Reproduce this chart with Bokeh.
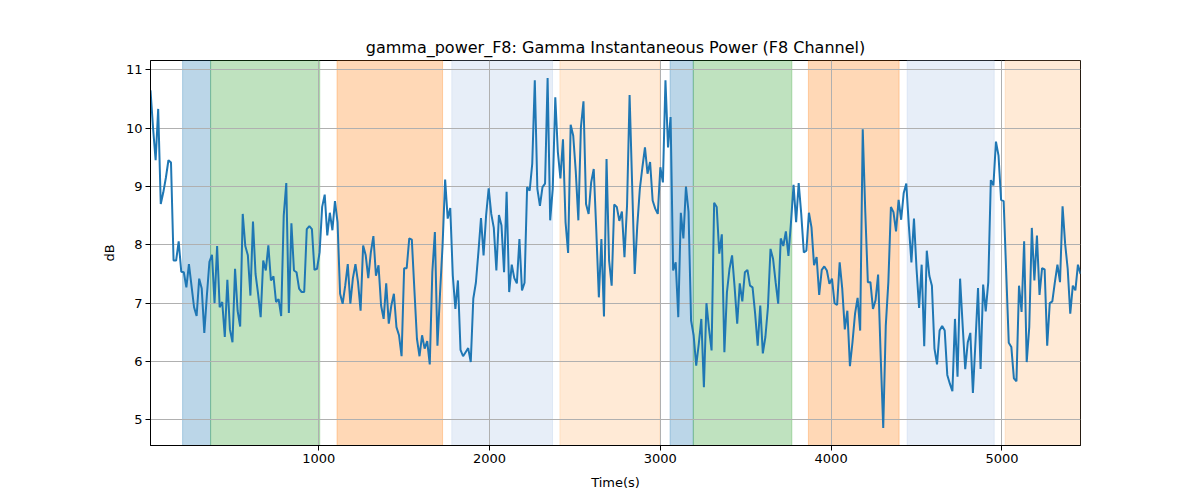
import numpy as np
from bokeh.plotting import figure
from bokeh.models import Range1d, FixedTicker, BoxAnnotation
from bokeh.embed import file_html
from bokeh.resources import INLINE

# ---- data ----
sample_step = 15  # seconds between samples
power_part1 = [
    10.65, 10.0, 9.45, 10.33, 8.70, 8.9, 9.15, 9.45, 9.41,
    7.73, 7.73, 8.06, 7.54, 7.53, 7.27, 7.67, 7.3, 6.93, 6.78,
    7.42, 7.25, 6.49, 7.13, 7.71, 7.83, 7.0, 7.98, 6.93, 7.02,
    6.42, 7.4, 6.55, 6.33, 7.59, 6.87, 6.6, 8.53, 7.98, 7.82,
    7.13, 8.4, 7.5, 7.16, 6.76, 7.73, 7.56, 7.99, 7.39, 7.46,
    7.02, 7.07, 6.78, 8.5, 9.06, 6.83, 8.37, 7.56, 7.53, 7.25,
    7.19, 7.19, 8.27, 8.32, 8.27, 7.57, 7.59, 7.87, 8.65, 8.86,
    8.16, 8.55, 8.25, 8.75, 8.39, 7.16, 6.99, 7.3, 7.67, 6.99,
    7.43, 7.67, 7.36, 6.87, 7.99, 7.82, 7.43, 7.87, 8.15, 7.47,
    7.65, 6.96, 6.73, 7.34, 6.65,
]
power_part2 = [
    6.96, 7.16, 6.59, 6.45, 6.09, 7.60, 7.60, 8.11, 8.09, 7.23,
    6.39, 6.09, 6.45, 6.22, 6.35, 5.95, 7.53, 8.22, 6.27, 7.16,
    7.99, 9.12, 8.45, 8.63, 7.47, 6.9, 7.39, 6.2, 6.09, 6.16,
    6.23, 5.99, 7.08, 7.35, 7.88, 8.46, 7.82, 8.51, 8.97, 8.53,
    8.29, 7.56, 8.51, 8.33, 7.53, 8.91, 7.19, 7.66, 7.43, 7.34,
    8.1, 7.22, 7.35, 8.99, 8.93, 9.39, 10.82, 8.96, 8.67, 8.99,
    9.05, 10.86, 8.42, 8.96, 10.53, 9.59, 9.14, 9.81, 8.39, 7.86,
    10.06, 9.87, 9.25, 8.42, 10.02, 10.46, 8.70, 8.53, 9.07, 9.3,
    8.25, 7.1, 8.1, 6.77, 9.47, 7.73, 7.3, 8.69, 8.65, 8.41,
    8.57, 7.79, 8.67, 10.57,
]
power_part3 = [
    9.02, 7.5, 8.33, 8.96, 9.33, 9.67, 9.22, 9.42, 8.76, 8.62,
    8.53, 9.33, 9.07, 10.82, 9.67, 10.19, 7.56, 7.7, 6.76, 8.55,
    8.11, 9.0, 8.57, 6.7, 6.45, 5.93, 6.3, 6.73, 5.56, 7.0,
    6.56, 6.19, 8.72, 8.65, 7.85, 8.18, 6.16, 7.19, 7.59, 7.82,
    7.27, 6.65, 7.34, 7.03, 7.53, 7.57, 7.3, 7.27, 6.82, 6.27,
    6.96, 6.14, 6.42, 6.93, 7.93, 7.76, 7.36, 6.99, 8.11, 7.98,
    8.23, 7.81, 8.39, 9.03, 8.39, 9.06, 8.53, 7.87, 7.9, 8.55,
    8.3, 7.65, 7.79, 7.14, 7.57, 7.63, 7.56, 7.33, 7.42, 7.0,
    6.97, 7.7, 7.25, 6.55, 6.87, 5.92, 6.33, 6.82, 7.09, 6.53,
    9.98, 8.56, 7.36, 7.36,
]
power_part4 = [
    6.9, 7.05, 7.49, 6.1, 4.86, 6.62, 7.36, 8.65, 8.56, 8.23,
    8.77, 8.43, 8.89, 9.05, 8.33, 7.7, 8.45, 7.59, 6.92, 7.66,
    6.26, 7.9, 7.47, 7.3, 6.22, 5.95, 6.53, 6.61, 6.53, 5.77,
    5.62, 5.49, 6.73, 5.74, 7.42, 6.62, 5.87, 6.33, 6.49, 5.46,
    6.33, 7.26, 5.87, 7.32, 6.86, 7.36, 9.11, 9.02, 9.77, 9.53,
    8.77, 8.75, 7.53, 6.32, 6.25, 5.71, 5.66, 7.3, 6.85, 8.06,
    5.99, 6.59, 8.29, 7.39, 8.16, 7.14, 7.6, 7.58, 6.27, 7.0,
    7.03, 7.36, 7.66, 7.36, 8.66, 8.02, 7.59, 6.82, 7.3, 7.22,
    7.66, 7.5,
]
power_db = power_part1 + power_part2 + power_part3 + power_part4
time_s = [sample_step * (i + 1) for i in range(len(power_db))]

span_start = [203, 367, 1107, 1779, 2412, 3057, 3193, 3867, 4445, 5019]
span_end = [367, 1006, 1725, 2369, 2998, 3193, 3770, 4398, 4955, 5480]
span_color = ["#1f77b4", "#2ca02c", "#ff7f0e", "#aec7e8", "#ffbb78",
              "#1f77b4", "#2ca02c", "#ff7f0e", "#aec7e8", "#ffbb78"]

x_ticks = [1000, 2000, 3000, 4000, 5000]
y_ticks = [5, 6, 7, 8, 9, 10, 11]

FONT = "DejaVu Sans"

p = figure(width=1192, height=492, output_backend="svg", toolbar_location=None,
           title="gamma_power_F8: Gamma Instantaneous Power (F8 Channel)",
           x_range=Range1d(min(time_s), max(time_s)),
           y_range=Range1d(min(power_db) - 0.3, max(power_db) + 0.3))
p.min_border_left = 150
p.min_border_right = 112
p.min_border_top = 60
p.min_border_bottom = 47

for s, e, c in zip(span_start, span_end, span_color):
    p.add_layout(BoxAnnotation(left=s, right=e, fill_color=c, fill_alpha=0.3,
                               line_color=c, line_alpha=0.3, line_width=1,
                               level="image"))

p.line(time_s, power_db, line_color="#1f77b4", line_width=2)

p.title.text_font = FONT
p.title.text_font_size = "16px"
p.title.text_font_style = "normal"
p.title.text_color = "black"
p.title.align = "center"
p.title.standoff = 8

p.xaxis.ticker = FixedTicker(ticks=x_ticks)
p.yaxis.ticker = FixedTicker(ticks=y_ticks)
p.xaxis.axis_label = "Time(s)"
p.yaxis.axis_label = "dB"
for ax in (p.xaxis, p.yaxis):
    ax.axis_label_text_font = FONT
    ax.axis_label_text_font_size = "13px"
    ax.axis_label_text_font_style = "normal"
    ax.major_label_text_font = FONT
    ax.major_label_text_font_size = "13px"
    ax.major_label_text_color = "black"
    ax.axis_label_text_color = "black"
    ax.minor_tick_line_color = None
    ax.major_tick_in = 0
    ax.major_tick_out = 5
    ax.major_tick_line_color = "black"
    ax.axis_line_color = "black"
    ax.major_label_standoff = 3
p.xaxis.axis_label_standoff = 9
p.yaxis.axis_label_standoff = 6

p.grid.grid_line_color = "#b0b0b0"
p.grid.grid_line_width = 1
p.outline_line_color = "black"
p.outline_line_width = 1
p.background_fill_color = "white"

open("out.html", "w").write(file_html(p, INLINE))
